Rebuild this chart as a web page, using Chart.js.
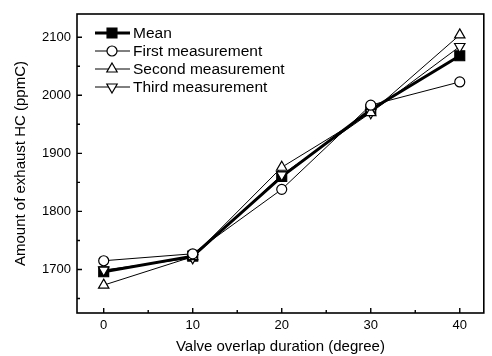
<!DOCTYPE html>
<html>
<head>
<meta charset="utf-8">
<script src="https://cdn.jsdelivr.net/npm/chart.js@4/dist/chart.umd.min.js"></script>
<style>
  html, body { margin: 0; padding: 0; background: #fff; }
  #wrap { width: 492px; height: 356px; }
</style>
</head>
<body>
<div id="wrap"><canvas id="hcChart" width="492" height="356"></canvas></div>
<script>
// DATA
const overlap = [0, 10, 20, 30, 40];
const meanHC = [1696, 1723, 1860, 1975, 2068];
const firstHC = [1715, 1727, 1838, 1983, 2023];
const secondHC = [1673, 1722, 1876, 1970, 2104];
const thirdHC = [1699, 1720, 1863, 1970, 2084];
const xTicks = [0, 10, 20, 30, 40];
const xMinor = [5, 15, 25, 35];
const yTicks = [1700, 1800, 1900, 2000, 2100];
const yMinor = [1650, 1750, 1850, 1950, 2050];
const legendOrder = [3, 0, 1, 2]; // Mean first, like the original

const FONT = "'Liberation Sans', Arial, sans-serif";
const pts = arr => overlap.map((x, k) => ({x: x, y: arr[k]}));

function series(label, arr, style, rot, r, fill, lw) {
  return {
    label: label, data: pts(arr),
    borderColor: '#000', borderWidth: lw,
    pointStyle: style, pointRotation: rot, pointRadius: r, pointHoverRadius: r,
    pointBackgroundColor: fill, pointBorderColor: '#000', pointBorderWidth: 1.2,
    tension: 0, fill: false
  };
}

// marker for the legend (same look as the chart points)
function marker(ctx, ds, x, y) {
  const r = ds.pointRadius;
  ctx.save();
  ctx.fillStyle = ds.pointBackgroundColor;
  ctx.strokeStyle = '#000';
  ctx.lineWidth = ds.pointBorderWidth;
  ctx.beginPath();
  if (ds.pointStyle === 'circle') {
    ctx.arc(x, y, r, 0, Math.PI * 2);
  } else if (ds.pointStyle === 'rect') {
    const s = r * Math.SQRT1_2;
    ctx.rect(x - s, y - s, 2 * s, 2 * s);
  } else {
    const d = ds.pointRotation ? -1 : 1;
    ctx.moveTo(x, y - d * r);
    ctx.lineTo(x + r * 0.866, y + d * r / 2);
    ctx.lineTo(x - r * 0.866, y + d * r / 2);
    ctx.closePath();
  }
  ctx.fill();
  ctx.stroke();
  ctx.restore();
}

// FRAME, INWARD TICKS AND LEGEND
const framePlugin = {
  id: 'frame',
  afterDatasetsDraw(chart) {
    const {ctx, chartArea: a, scales: {x, y}} = chart;
    ctx.save();
    ctx.strokeStyle = '#000';
    ctx.lineWidth = 1.6;
    ctx.strokeRect(a.left, a.top, a.right - a.left, a.bottom - a.top);
    ctx.lineWidth = 1.4;
    ctx.beginPath();
    xTicks.forEach(v => { const p = x.getPixelForValue(v); ctx.moveTo(p, a.bottom); ctx.lineTo(p, a.bottom - 5); });
    xMinor.forEach(v => { const p = x.getPixelForValue(v); ctx.moveTo(p, a.bottom); ctx.lineTo(p, a.bottom - 3); });
    yTicks.forEach(v => { const p = y.getPixelForValue(v); ctx.moveTo(a.left, p); ctx.lineTo(a.left + 5, p); });
    yMinor.forEach(v => { const p = y.getPixelForValue(v); ctx.moveTo(a.left, p); ctx.lineTo(a.left + 3, p); });
    ctx.stroke();

    // legend
    ctx.font = '15.5px ' + FONT;
    ctx.fillStyle = '#000';
    ctx.textBaseline = 'middle';
    legendOrder.forEach((idx, k) => {
      const ds = chart.data.datasets[idx];
      const ly = 33 + k * 18;
      ctx.lineWidth = ds.borderWidth;
      ctx.beginPath();
      ctx.moveTo(95, ly);
      ctx.lineTo(130, ly);
      ctx.stroke();
      marker(ctx, ds, 112, ly);
      ctx.fillText(ds.label, 133, ly + 1);
    });
    ctx.restore();
  }
};

const ctx = document.getElementById('hcChart').getContext('2d');
const hcChart = new Chart(ctx, {
  type: 'line',
  data: {
    datasets: [
      series('First measurement', firstHC, 'circle', 0, 5, '#fff', 1),
      series('Second measurement', secondHC, 'triangle', 0, 6, '#fff', 1),
      series('Third measurement', thirdHC, 'triangle', 180, 6, '#fff', 1),
      series('Mean', meanHC, 'rect', 0, 7, '#000', 3)
    ]
  },
  options: {
    responsive: false,
    animation: false,
    events: [],
    layout: { padding: { top: 14, right: 3, left: 0, bottom: 0 } },
    plugins: { legend: { display: false }, tooltip: { enabled: false } },
    scales: {
      x: {
        type: 'linear', min: -3, max: 42.7,
        grid: { display: false, drawTicks: false }, border: { display: false },
        afterBuildTicks: s => { s.ticks = xTicks.map(v => ({value: v})); },
        afterFit: s => { s.height = 43; },
        ticks: { color: '#000', font: { family: FONT, size: 13 }, padding: 5, maxRotation: 0,
                 callback: v => String(v) },
        title: { display: true, text: 'Valve overlap duration (degree)', color: '#000',
                 font: { family: FONT, size: 15 }, padding: { top: 0, bottom: 0 } }
      },
      y: {
        type: 'linear', min: 1625, max: 2140,
        grid: { display: false, drawTicks: false }, border: { display: false },
        afterBuildTicks: s => { s.ticks = yTicks.map(v => ({value: v})); },
        afterFit: s => { s.width = 77; },
        ticks: { color: '#000', font: { family: FONT, size: 13 }, padding: 6,
                 callback: v => String(v) },
        title: { display: true, text: 'Amount of exhaust HC (ppmC)', color: '#000',
                 font: { family: FONT, size: 15 }, padding: { top: 12, bottom: 0 } }
      }
    }
  },
  plugins: [framePlugin]
});
</script>
</body>
</html>
